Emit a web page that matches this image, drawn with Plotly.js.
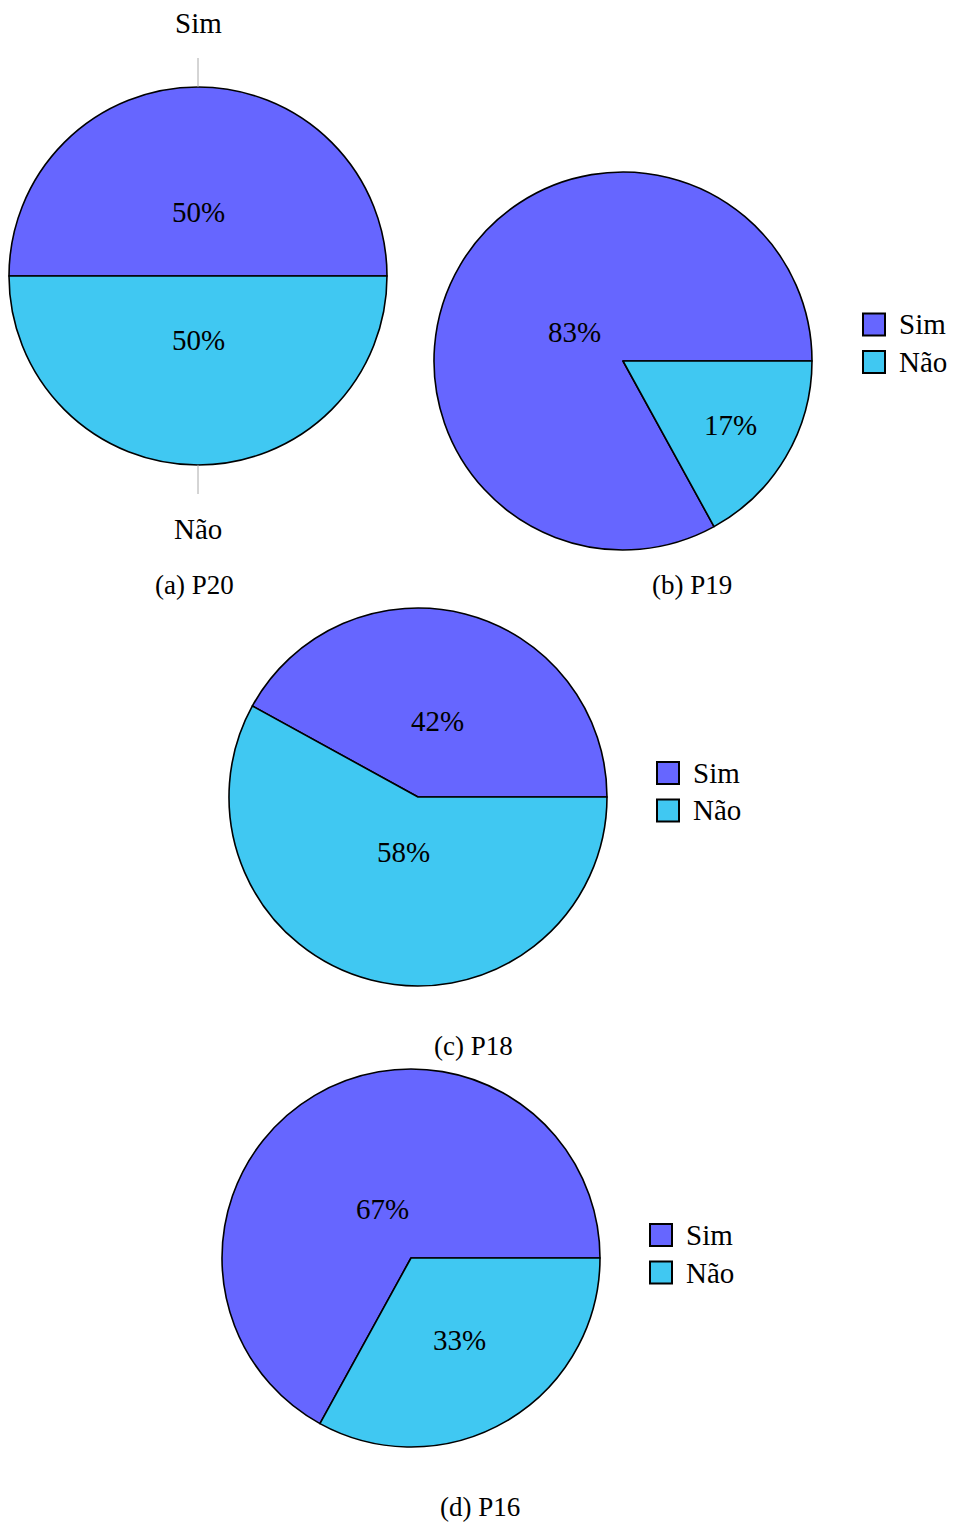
<!DOCTYPE html>
<html>
<head>
<meta charset="utf-8">
<script src="https://cdn.plot.ly/plotly-3.0.1.min.js"></script>
<style>html,body{margin:0;padding:0;background:#fff;}</style>
</head>
<body>
<div id="chart" style="width:955px;height:1527px;"></div>
<script>
// ---- data ----
const labels = ['Sim', 'Não'];
const questions = ['P20', 'P19', 'P18', 'P16'];
const captionLetters = ['(a)', '(b)', '(c)', '(d)'];
const simValues = [50, 83, 42, 67];
const naoValues = [50, 17, 58, 33];
const sliceColors = ['#6666FF', '#40C8F2'];

// ---- layout constants (pixels) ----
const W = 955, H = 1527, R = 189;
const centers = [[198, 276], [623, 361], [418, 797], [411, 1258]];
const captionPos = [[194, 585], [692, 585], [473, 1046], [480, 1507]];
// legend: [left x of swatch, center y of first row]
const legendPos = [null, [863, 324.5], [657, 773], [650, 1235]];
const LEG_ROW = 37.5, SW = 22, LEG_GAP = 12;
const FONT = 'Liberation Serif, Times New Roman, serif';
const FS = 29;

const px = x => x / W;
const py = y => 1 - y / H;

const traces = [];
const annotations = [];
const shapes = [];

questions.forEach((q, i) => {
  const [cx, cy] = centers[i];
  const total = simValues[i] + naoValues[i];
  const simDeg = 360 * simValues[i] / total;
  const vals = [simValues[i], naoValues[i]];
  traces.push({
    type: 'pie',
    name: q,
    labels: labels,
    values: vals,
    sort: false,
    direction: 'clockwise',
    rotation: 90 - simDeg,
    marker: {colors: sliceColors, line: {color: '#000', width: 1.6}},
    textinfo: 'none',
    hoverinfo: 'label+percent',
    domain: {x: [px(cx - R), px(cx + R)], y: [py(cy + R), py(cy - R)]},
    showlegend: false
  });

  // percentage labels placed like pgf-pie (inner position depends on slice angle)
  const spans = [[0, simDeg], [simDeg, 360]];
  vals.forEach((v, k) => {
    const a0 = spans[k][0], a1 = spans[k][1];
    const ang = a1 - a0;
    const mid = (a0 + a1) / 2 * Math.PI / 180;
    const f = Math.max(0.3, 0.8 - 0.3 / 110 * (ang - 10));
    const tx = cx + f * R * Math.cos(mid);
    const ty = cy - f * R * Math.sin(mid);
    annotations.push({
      x: px(tx), y: py(ty), xref: 'paper', yref: 'paper',
      text: Math.round(100 * v / total) + '%', showarrow: false,
      xanchor: 'center', yanchor: 'middle',
      font: {family: FONT, size: FS, color: '#000'}
    });
    if (i === 0) {
      // outside labels with leader lines
      const ex = cx + R * Math.cos(mid), ey = cy - R * Math.sin(mid);
      const lx = cx + (R + 29) * Math.cos(mid), ly = cy - (R + 29) * Math.sin(mid);
      shapes.push({type: 'line', xref: 'paper', yref: 'paper',
        x0: px(ex), y0: py(ey), x1: px(lx), y1: py(ly),
        line: {color: '#aaaaaa', width: 1}});
      const ox = cx + (R + 64) * Math.cos(mid), oy = cy - (R + 64) * Math.sin(mid);
      annotations.push({
        x: px(ox), y: py(oy), xref: 'paper', yref: 'paper',
        text: labels[k], showarrow: false, xanchor: 'center', yanchor: 'middle',
        font: {family: FONT, size: FS, color: '#000'}
      });
    }
  });

  // legend (pgf-pie style: bordered square + label)
  if (legendPos[i]) {
    const [lx, ly] = legendPos[i];
    labels.forEach((lab, k) => {
      const yc = ly + k * LEG_ROW;
      shapes.push({type: 'rect', xref: 'paper', yref: 'paper',
        x0: px(lx), x1: px(lx + SW), y0: py(yc - SW / 2), y1: py(yc + SW / 2),
        fillcolor: sliceColors[k], line: {color: '#000', width: 2}});
      annotations.push({
        x: px(lx + SW + LEG_GAP), y: py(yc), xref: 'paper', yref: 'paper',
        text: lab, showarrow: false, xanchor: 'left', yanchor: 'middle',
        font: {family: FONT, size: FS, color: '#000'}
      });
    });
  }

  annotations.push({
    x: px(captionPos[i][0]), y: py(captionPos[i][1]), xref: 'paper', yref: 'paper',
    text: captionLetters[i] + ' ' + q, showarrow: false,
    xanchor: 'center', yanchor: 'middle',
    font: {family: FONT, size: 27, color: '#000'}
  });
});

const layout = {
  width: W, height: H,
  margin: {l: 0, r: 0, t: 0, b: 0},
  paper_bgcolor: '#fff',
  showlegend: false,
  annotations: annotations,
  shapes: shapes,
  font: {family: FONT, size: FS, color: '#000'}
};

Plotly.newPlot('chart', traces, layout, {staticPlot: true});
</script>
</body>
</html>
